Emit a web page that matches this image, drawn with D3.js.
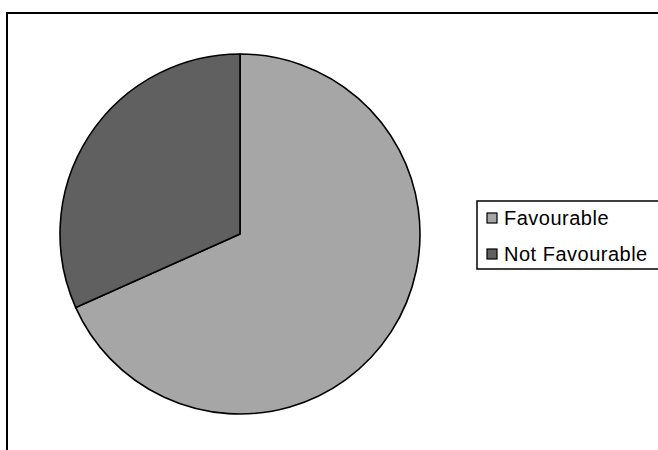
<!DOCTYPE html>
<html>
<head>
<meta charset="utf-8">
<script src="https://cdn.jsdelivr.net/npm/d3@7"></script>
<style>
  html, body { margin: 0; padding: 0; background: #fff; }
  svg { display: block; }
</style>
</head>
<body>
<svg id="chart" width="658" height="450"></svg>
<script>
// Share of responses
const categories = ["Favourable", "Not Favourable"];
const values = [68.3, 31.7];
const colors = ["#a6a6a6", "#606060"];

const svg = d3.select("#chart");

// Chart frame (continues past the right and bottom edges)
svg.append("rect")
  .attr("x", 7).attr("y", 13)
  .attr("width", 700).attr("height", 500)
  .attr("fill", "#fff")
  .attr("stroke", "#000")
  .attr("stroke-width", 2);

const cx = 240, cy = 234, radius = 180;

const pie = d3.pie().sort(null).value(d => d.value);
const arc = d3.arc().innerRadius(0).outerRadius(radius);
const data = categories.map((c, i) => ({ name: c, value: values[i] }));
const color = d3.scaleOrdinal().domain(categories).range(colors);

svg.append("g")
  .attr("transform", `translate(${cx},${cy})`)
  .selectAll("path")
  .data(pie(data))
  .join("path")
  .attr("d", arc)
  .attr("fill", d => color(d.data.name))
  .attr("stroke", "#000")
  .attr("stroke-width", 1.6)
  .attr("stroke-linejoin", "round");

// Legend
const legend = svg.append("g").attr("transform", "translate(477,201)");
legend.append("rect")
  .attr("x", 0).attr("y", 0)
  .attr("width", 200).attr("height", 68)
  .attr("fill", "#fff")
  .attr("stroke", "#000")
  .attr("stroke-width", 1.5);

const items = legend.selectAll("g.item")
  .data(categories)
  .join("g")
  .attr("class", "item")
  .attr("transform", (d, i) => `translate(0,${12 + i * 36})`);

items.append("rect")
  .attr("x", 10).attr("y", 0)
  .attr("width", 10).attr("height", 10)
  .attr("fill", d => color(d))
  .attr("stroke", "#000")
  .attr("stroke-width", 1.2);

items.append("text")
  .attr("x", 27).attr("y", 12)
  .attr("font-family", "'Liberation Sans', Arial, sans-serif")
  .attr("font-size", 20)
  .attr("letter-spacing", 0.5)
  .attr("fill", "#000")
  .text(d => d);
</script>
</body>
</html>
